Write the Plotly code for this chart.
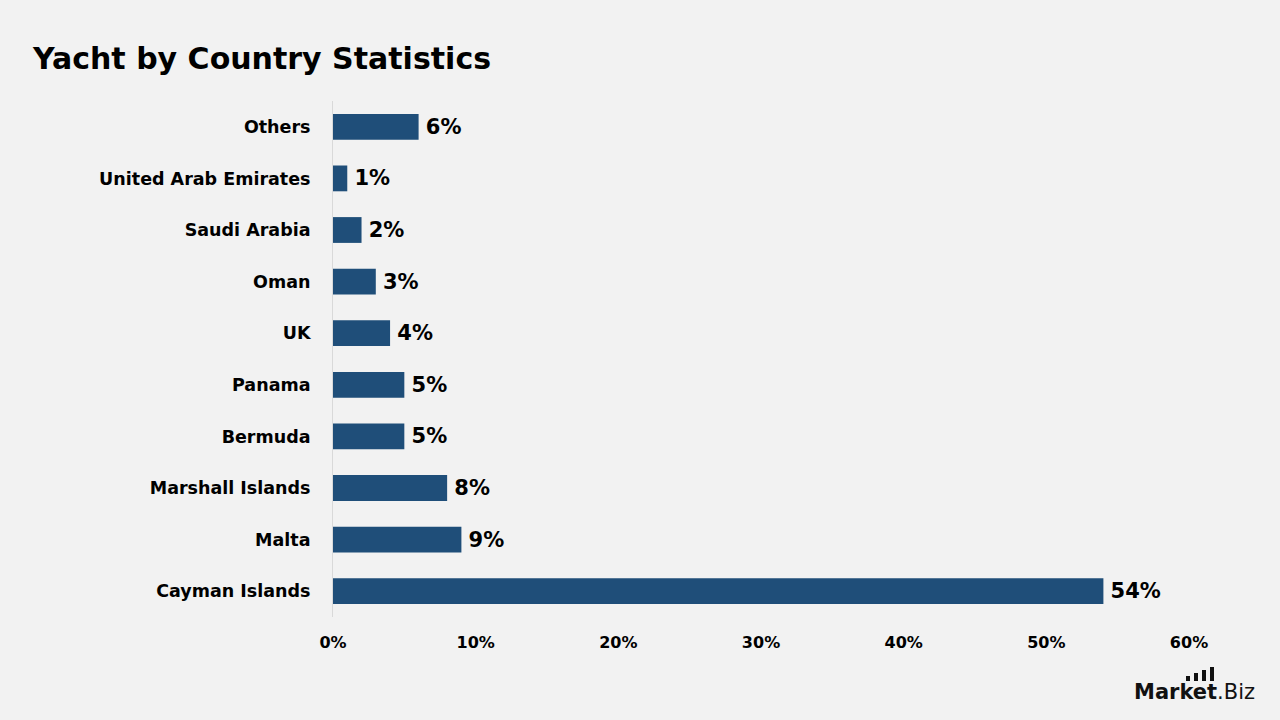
import plotly.graph_objects as go

categories = ["Cayman Islands", "Malta", "Marshall Islands", "Bermuda", "Panama",
              "UK", "Oman", "Saudi Arabia", "United Arab Emirates", "Others"]
values = [54, 9, 8, 5, 5, 4, 3, 2, 1, 6]
tick_vals = [0, 10, 20, 30, 40, 50, 60]
tick_text = ["0%", "10%", "20%", "30%", "40%", "50%", "60%"]

FONT = "DejaVu Sans"
BG = "#f2f2f2"
BAR = "#1f4e79"

L, R, T, B = 333, 91, 101, 103
W, H = 1280, 720

fig = go.Figure(go.Bar(
    y=categories, x=values, orientation="h",
    marker=dict(color=BAR, line=dict(width=0)),
    width=0.5,
    text=[f"{v}%" for v in values], textposition="outside",
    texttemplate="<b>\u2009%{text}</b>",
    textfont=dict(family=FONT, size=21, color="#000000"),
    cliponaxis=False,
))

fig.update_layout(
    width=W, height=H,
    paper_bgcolor=BG, plot_bgcolor=BG,
    margin=dict(l=L, r=R, t=T, b=B),
    showlegend=False,
    title=dict(text="<b>Yacht by Country Statistics</b>", x=33/W, xanchor="left",
               y=1-58/H, yanchor="middle",
               font=dict(family=FONT, size=30, color="#000000")),
    xaxis=dict(range=[0, 60], tickvals=tick_vals,
               ticktext=[f"<b>{t}</b>" for t in tick_text],
               showgrid=False, zeroline=False, showline=False,
               tickfont=dict(family=FONT, size=16, color="#000000"),
               ticks="", ticklabelstandoff=14),
    yaxis=dict(showgrid=False, zeroline=False, showline=True, linecolor="#d9d9d9",
               linewidth=1, ticks="", ticklabelstandoff=18,
               tickprefix="<b>", ticksuffix="</b>",
               tickfont=dict(family=FONT, size=17.5, color="#000000"),
               categoryorder="array", categoryarray=categories),
)

# Logo (decoration, placed in pixel-derived paper coordinates)
def px(x):
    return (x - L) / (W - L - R)

def py(y):
    return (H - B - y) / (H - T - B)

fig.add_annotation(text="<b>Market</b>.Biz", xref="paper", yref="paper",
                   x=px(1257), y=py(692), xanchor="right", yanchor="middle",
                   showarrow=False, font=dict(family=FONT, size=21, color="#111111"))
for x0, top in [(1186, 676), (1194, 673), (1202, 670), (1210, 667)]:
    fig.add_shape(type="rect", xref="paper", yref="paper",
                  x0=px(x0), x1=px(x0 + 4), y0=py(681), y1=py(top),
                  fillcolor="#111111", line=dict(width=0))

fig.write_html("out.html")
